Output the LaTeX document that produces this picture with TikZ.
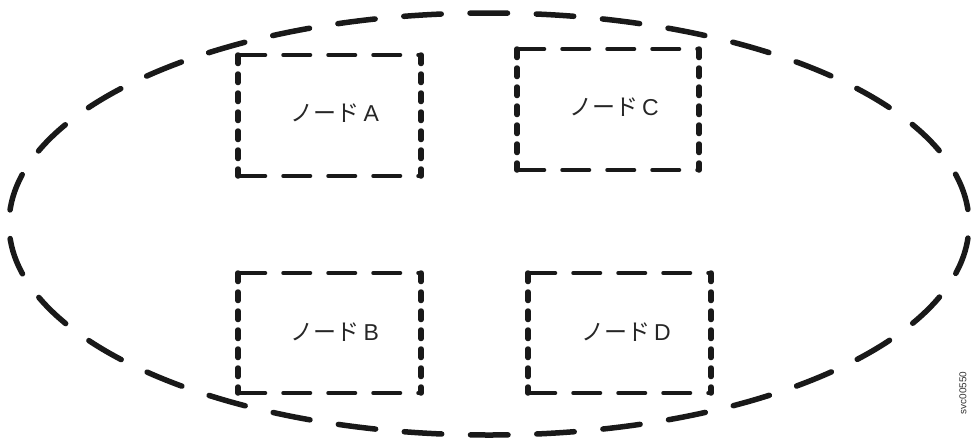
\documentclass[tikz,border=0pt]{standalone}
\usepackage{fontspec}
\newfontfamily\jpfont{Noto Sans CJK JP}
\setsansfont{Liberation Sans}
\begin{document}
\begin{tikzpicture}[x=1pt,y=-1pt,
  hedge/.style={line width=3.5pt,dash pattern=on 27.5pt off 17.5pt,line cap=round,draw=black!90},
  vedge/.style={line width=5.5pt,dash pattern=on 8.5pt off 10.5pt,line cap=round,draw=black!90},
  ring/.style={line width=5.5pt,dash pattern=on 37.5pt off 28.8pt,dash phase=52.15pt,line cap=round,draw=black!90},
  lbl/.style={font=\sffamily\fontsize{23}{26}\selectfont,text=black!85}]
\useasboundingbox (0,0) rectangle (972,445);
\coordinate (ring) at (489,224);
\draw[ring] (ring) ellipse [x radius=480, y radius=211];
% box A
\coordinate (a1) at (238,55); \coordinate (a2) at (421,55);
\coordinate (a3) at (421,176); \coordinate (a4) at (238,176);
\draw[hedge] (a1) -- (a2); \draw[hedge] (a4) -- (a3);
\draw[vedge] (a1) -- (a4); \draw[vedge] (a2) -- (a3);
\node[lbl] (A) at (335,113) {{\jpfont ノード}\,A};
% box C
\coordinate (c1) at (517,49); \coordinate (c2) at (699,49);
\coordinate (c3) at (699,170); \coordinate (c4) at (517,170);
\draw[hedge] (c1) -- (c2); \draw[hedge] (c4) -- (c3);
\draw[vedge] (c1) -- (c4); \draw[vedge] (c2) -- (c3);
\node[lbl] (C) at (614,107) {{\jpfont ノード}\,C};
% box B
\coordinate (b1) at (238,273); \coordinate (b2) at (421,273);
\coordinate (b3) at (421,393); \coordinate (b4) at (238,393);
\draw[hedge] (b1) -- (b2); \draw[hedge] (b4) -- (b3);
\draw[vedge] (b1) -- (b4); \draw[vedge] (b2) -- (b3);
\node[lbl] (B) at (335,332) {{\jpfont ノード}\,B};
% box D
\coordinate (d1) at (528,273); \coordinate (d2) at (711,273);
\coordinate (d3) at (711,393); \coordinate (d4) at (528,393);
\draw[hedge] (d1) -- (d2); \draw[hedge] (d4) -- (d3);
\draw[vedge] (d1) -- (d4); \draw[vedge] (d2) -- (d3);
\node[lbl] (D) at (626,332) {{\jpfont ノード}\,D};
\node[rotate=90,font=\sffamily\fontsize{10}{11}\selectfont,text=black!80] (id) at (963,393) {svc00550};
\end{tikzpicture}
\end{document}
